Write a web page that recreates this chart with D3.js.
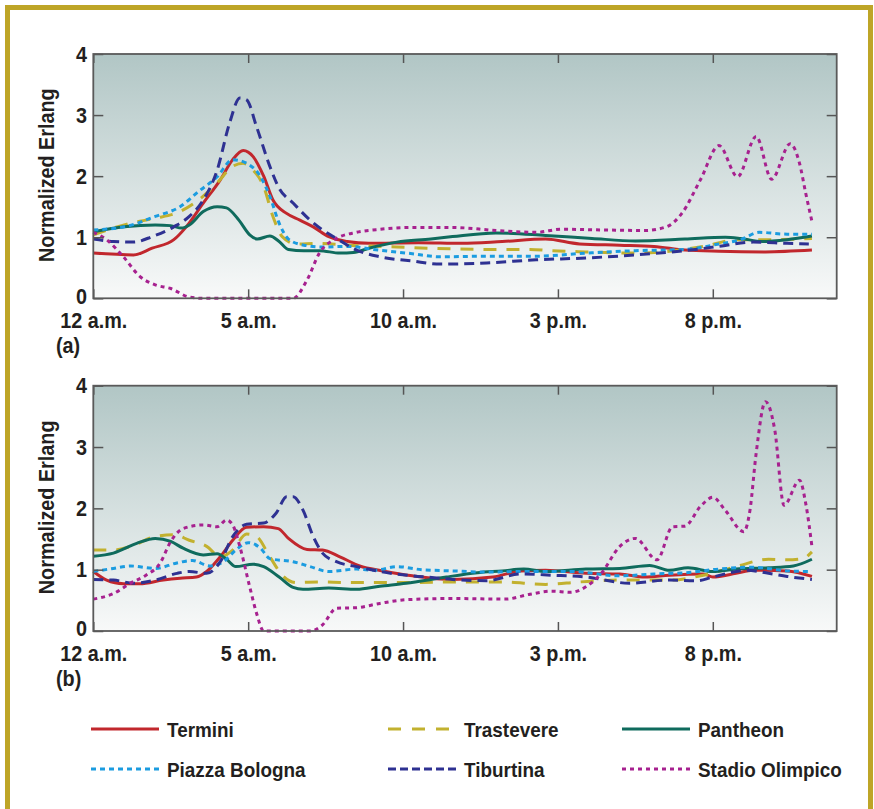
<!DOCTYPE html>
<html>
<head>
<meta charset="utf-8">
<script src="https://cdn.jsdelivr.net/npm/d3@7"></script>
<style>
  body { margin: 0; background: #fff; }
  svg text { font-family: "Liberation Sans", Arial, Helvetica, sans-serif; font-weight: bold; fill: #231f20; }
</style>
</head>
<body>
<script>
'use strict';

var width  = 874;
var height = 809;

// hour ticks and labels
var hourTicks  = [0, 5, 10, 15, 20];
var hourLabels = ['12 a.m.', '5 a.m.', '10 a.m.', '3 p.m.', '8 p.m.'];
var valueTicks = [0, 1, 2, 3, 4];

var seriesNames = ['Termini', 'Trastevere', 'Pantheon', 'Piazza Bologna', 'Tiburtina', 'Stadio Olimpico'];

// panel (a) readings, [hour, normalized erlang]
var termA = [[0,0.74],[1.3,0.71],[1.9,0.82],[2.6,0.96],[3,1.17],[3.55,1.56],[4.1,1.94],[4.5,2.27],[4.84,2.42],[5.16,2.32],[5.5,2.0],[5.8,1.61],[6.24,1.39],[6.67,1.28],[7.1,1.17],[7.6,1.01],[8.2,0.93],[8.9,0.9],[10.5,0.91],[11.9,0.9],[13.2,0.93],[14.6,0.97],[15.7,0.89],[17,0.87],[18.1,0.85],[19.1,0.79],[20.2,0.77],[21.7,0.76],[23.2,0.79]];
var trasA = [[0,1.04],[1.2,1.23],[2,1.31],[2.8,1.42],[3.4,1.61],[4,1.89],[4.5,2.16],[4.84,2.21],[5.16,2.1],[5.5,1.83],[5.8,1.34],[6.1,1.01],[6.56,0.89],[7.2,0.9],[8.2,0.87],[9.8,0.84],[11.5,0.81],[12.8,0.8],[14.1,0.8],[14.8,0.78],[15.9,0.76],[17.5,0.74],[18.6,0.77],[19.7,0.85],[20.8,0.96],[21.8,0.96],[23.2,0.98]];
var panA = [[0,1.09],[1,1.17],[2,1.2],[2.5,1.19],[2.85,1.15],[3.1,1.2],[3.55,1.42],[4,1.5],[4.3,1.48],[4.7,1.28],[5.05,1.04],[5.3,0.97],[5.7,1.02],[6,0.93],[6.3,0.8],[6.8,0.78],[7.3,0.78],[7.96,0.74],[8.4,0.75],[8.9,0.82],[9.8,0.92],[10.9,0.97],[11.6,1.01],[13,1.07],[14.6,1.03],[16.1,0.98],[17.5,0.94],[19.1,0.97],[20.4,1.0],[20.9,0.98],[21.6,0.93],[22.4,0.96],[23.2,1.02]];
var bolA = [[0,1.12],[1,1.17],[2,1.34],[2.8,1.5],[3.4,1.75],[4,1.99],[4.5,2.27],[4.95,2.21],[5.4,1.99],[5.7,1.67],[6,1.23],[6.3,0.97],[6.8,0.87],[7.4,0.84],[8.2,0.85],[9.2,0.79],[10.3,0.73],[11.2,0.68],[12.7,0.69],[14.3,0.69],[15.9,0.74],[17.5,0.78],[19.1,0.8],[20.2,0.89],[20.9,0.96],[21.5,1.08],[22.4,1.05],[23.2,1.05]];
var tibA = [[0,0.97],[0.65,0.93],[1.3,0.92],[1.9,1.01],[2.6,1.17],[3.1,1.34],[3.55,1.61],[4,2.1],[4.4,2.87],[4.73,3.28],[4.95,3.25],[5.27,2.81],[5.7,2.16],[6,1.8],[6.45,1.56],[7,1.28],[7.4,1.12],[7.85,0.98],[8.5,0.79],[9.25,0.68],[10.3,0.61],[11.2,0.56],[12.7,0.58],[14.3,0.63],[15.9,0.66],[17.5,0.71],[19.1,0.78],[20.2,0.85],[21.3,0.92],[22.4,0.9],[23.1,0.89]];
var staA = [[0,1.08],[0.43,0.96],[0.97,0.68],[1.5,0.36],[2,0.22],[2.5,0.16],[3.1,0.02],[3.55,0],[6.45,0],[6.9,0.3],[7.3,0.74],[7.85,0.98],[8.5,1.08],[9.25,1.13],[10.3,1.16],[11.6,1.16],[13,1.11],[14.3,1.08],[15.1,1.13],[16.4,1.12],[17.8,1.11],[18.5,1.17],[19,1.39],[19.6,1.94],[20.2,2.5],[20.8,1.99],[21.4,2.65],[21.9,1.95],[22.5,2.53],[22.8,2.21],[23,1.72],[23.2,1.26]];

// panel (b) readings
var termB = [[0,0.97],[0.43,0.83],[0.97,0.77],[1.5,0.77],[2.26,0.83],[2.8,0.86],[3.33,0.88],[3.66,0.97],[4.1,1.21],[4.5,1.48],[4.95,1.69],[5.5,1.7],[5.97,1.67],[6.3,1.51],[6.9,1.33],[7.4,1.32],[7.96,1.21],[8.6,1.06],[9.35,0.98],[10.3,0.9],[11.6,0.84],[12.9,0.88],[13.8,0.98],[14.6,0.99],[15.9,0.94],[17,0.93],[17.8,0.88],[18.6,0.91],[19.7,0.93],[20,0.88],[20.75,0.94],[21.3,0.99],[22.4,0.98],[23.2,0.89]];
var trasB = [[0,1.32],[0.65,1.32],[1.2,1.38],[2,1.54],[2.6,1.57],[3.1,1.48],[3.66,1.38],[4.1,1.21],[4.5,1.32],[4.95,1.58],[5.27,1.54],[5.7,1.21],[6.1,0.91],[6.56,0.79],[7.3,0.8],[8.2,0.79],[9.25,0.79],[10.3,0.79],[11.6,0.8],[13.2,0.8],[14.6,0.76],[15.7,0.8],[17,0.83],[18.6,0.83],[19.7,0.91],[20.75,1.05],[21.8,1.17],[22.4,1.16],[22.9,1.18],[23.2,1.29]];
var panB = [[0,1.22],[0.65,1.27],[1.4,1.43],[2,1.51],[2.5,1.46],[2.9,1.35],[3.55,1.24],[4,1.26],[4.3,1.17],[4.6,1.05],[5.16,1.09],[5.5,1.05],[6,0.88],[6.45,0.71],[6.77,0.68],[7.6,0.7],[8.5,0.68],[9.25,0.73],[10.1,0.78],[10.9,0.84],[11.4,0.88],[12.4,0.95],[13.2,0.98],[13.9,1.01],[14.6,0.97],[15.9,1.01],[17,1.02],[17.96,1.07],[18.6,0.99],[19.2,1.03],[20,0.97],[20.75,1.01],[21.8,1.03],[22.6,1.06],[23.2,1.17]];
var bolB = [[0,0.97],[0.65,1.02],[1.2,1.06],[2,1.02],[2.7,1.11],[3.2,1.15],[3.76,1.06],[4.2,1.13],[4.6,1.32],[5,1.44],[5.4,1.35],[5.7,1.18],[6.45,1.13],[7,1.05],[7.6,0.97],[8.5,1.01],[9.1,0.99],[9.8,1.05],[10.6,1.0],[11.6,0.98],[12.7,0.96],[13.8,0.97],[15.4,0.97],[17,0.9],[18.1,0.93],[19.1,0.95],[20.2,1.01],[21.3,1.04],[22.4,0.98],[23.2,0.97]];
var tibB = [[0,0.84],[0.65,0.83],[1.3,0.78],[2,0.83],[2.7,0.94],[3.1,0.97],[3.66,0.94],[4.1,1.13],[4.5,1.54],[4.95,1.74],[5.5,1.76],[5.9,1.92],[6.24,2.19],[6.45,2.19],[6.77,1.97],[7.1,1.54],[7.4,1.27],[7.85,1.13],[8.5,1.05],[9.25,0.97],[10.3,0.9],[11,0.87],[11.6,0.84],[12.7,0.82],[13.8,0.93],[14.8,0.91],[15.9,0.88],[17.3,0.78],[18.6,0.83],[19.5,0.82],[20,0.88],[21.1,0.99],[21.8,0.94],[22.4,0.89],[23.2,0.84]];
var staB = [[0,0.52],[0.65,0.61],[1.2,0.78],[1.7,0.91],[2.15,1.1],[2.5,1.46],[2.9,1.67],[3.55,1.73],[4,1.7],[4.3,1.81],[4.5,1.73],[4.73,1.38],[5.05,0.72],[5.27,0.29],[5.5,0],[7,0],[7.4,0.1],[7.85,0.37],[8.5,0.38],[9.25,0.45],[10.1,0.51],[11.6,0.53],[13.3,0.52],[14.1,0.6],[14.8,0.65],[15.4,0.63],[15.9,0.72],[16.4,0.94],[17,1.38],[17.5,1.51],[18.2,1.16],[18.7,1.7],[19.1,1.71],[19.6,2.03],[20,2.18],[20.4,1.97],[21,1.62],[21.2,1.97],[21.4,2.9],[21.7,3.74],[22,3.28],[22.3,2.05],[22.8,2.46],[23,2.08],[23.2,1.38]];

var styles = [
  {color: '#c1272d', dash: null,   legendDash: null},
  {color: '#c2b12f', dash: '13,10', legendDash: '13,11'},
  {color: '#0f6b5d', dash: null,   legendDash: null},
  {color: '#1b9ce0', dash: '5,4',  legendDash: '5,4'},
  {color: '#2e3192', dash: '10,6', legendDash: '8,4'},
  {color: '#a7218f', dash: '4,4',  legendDash: '4,4'}
];

// condensed look: squeeze the glyphs sideways
var squeeze = 'scale(0.9,1)';

var svg = d3.select('body').append('svg')
    .attr('width', width)
    .attr('height', height);

var defs = svg.append('defs');
var grad = defs.append('linearGradient')
    .attr('id', 'bg')
    .attr('x1', 0).attr('y1', 0).attr('x2', 0).attr('y2', 1);
grad.append('stop').attr('offset', '0%').attr('stop-color', '#b1c6c5');
grad.append('stop').attr('offset', '100%').attr('stop-color', '#f8f9f9');

// gold frame
svg.append('rect')
    .attr('x', 7.5).attr('y', 7.5)
    .attr('width', 863).attr('height', 820)
    .attr('fill', 'none')
    .attr('stroke', '#bea527')
    .attr('stroke-width', 5);

var x = d3.scaleLinear().domain([0, 24]).range([93.3, 836.7]);

var line = d3.line()
    .x(function(d) { return x(d[0]); })
    .curve(d3.curveMonotoneX);

function panel(top, bottom, data, tag) {
  var y = d3.scaleLinear().domain([0, 4]).range([bottom, top]);
  var g = svg.append('g');

  g.append('rect')
      .attr('x', x(0)).attr('y', top)
      .attr('width', x(24) - x(0)).attr('height', bottom - top)
      .attr('fill', 'url(#bg)');

  line.y(function(d) { return y(d[1]); });

  data.forEach(function(s, i) {
    g.append('path')
        .attr('d', line(s))
        .attr('fill', 'none')
        .attr('stroke', styles[i].color)
        .attr('stroke-width', 3)
        .attr('stroke-dasharray', styles[i].dash);
  });

  var bottomAxis = d3.axisBottom(x).tickValues(hourTicks)
      .tickFormat(function(d, i) { return hourLabels[i]; })
      .tickSizeInner(-9).tickSizeOuter(0).tickPadding(14);
  var topAxis = d3.axisTop(x).tickValues(hourTicks)
      .tickFormat('').tickSizeInner(-9).tickSizeOuter(0);
  var leftAxis = d3.axisLeft(y).tickValues(valueTicks)
      .tickFormat(d3.format('d'))
      .tickSizeInner(-10).tickSizeOuter(0).tickPadding(7);
  var rightAxis = d3.axisRight(y).tickValues(valueTicks)
      .tickFormat('').tickSizeInner(-10).tickSizeOuter(0);

  var axes = [
    g.append('g').attr('transform', 'translate(0,' + bottom + ')').call(bottomAxis),
    g.append('g').attr('transform', 'translate(0,' + top + ')').call(topAxis),
    g.append('g').attr('transform', 'translate(' + x(0) + ',0)').call(leftAxis),
    g.append('g').attr('transform', 'translate(' + x(24) + ',0)').call(rightAxis)
  ];
  axes.forEach(function(a) {
    a.select('.domain').remove();
    a.selectAll('line').attr('stroke', '#555').attr('stroke-width', 1.5);
    a.selectAll('text')
        .attr('fill', '#231f20')
        .attr('transform', squeeze)
        .style('font-size', '22px');
  });
  // the zero label sits a little above its tick
  axes[2].selectAll('.tick text').filter(function(d) { return d === 0; })
      .attr('dy', '0.22em');

  g.append('rect')
      .attr('x', x(0)).attr('y', top)
      .attr('width', x(24) - x(0)).attr('height', bottom - top)
      .attr('fill', 'none')
      .attr('stroke', '#5a5a5a')
      .attr('stroke-width', 1.8);

  g.append('text')
      .attr('transform', 'translate(54,' + ((top + bottom) / 2 - 1) + ') rotate(-90) ' + squeeze)
      .attr('text-anchor', 'middle')
      .style('font-size', '22px')
      .text('Normalized Erlang');

  g.append('text')
      .attr('transform', 'translate(56,' + (bottom + 55) + ') ' + squeeze)
      .style('font-size', '22px')
      .text(tag);
}

panel(54, 298.3, [termA, trasA, panA, bolA, tibA, staA], '(a)');
panel(385.7, 631, [termB, trasB, panB, bolB, tibB, staB], '(b)');

// legend, three columns by two rows
var legendX = [91, 388, 622];
var legendY = [729, 769];

seriesNames.forEach(function(name, i) {
  var lx = legendX[i % 3];
  var ly = legendY[Math.floor(i / 3)];
  svg.append('line')
      .attr('x1', lx).attr('x2', lx + 68)
      .attr('y1', ly).attr('y2', ly)
      .attr('stroke', styles[i].color)
      .attr('stroke-width', 3)
      .attr('stroke-dasharray', styles[i].legendDash);
  svg.append('text')
      .attr('transform', 'translate(' + (lx + 76) + ',' + ly + ') ' + squeeze)
      .attr('dy', '0.36em')
      .style('font-size', '21px')
      .text(name);
});
</script>
</body>
</html>
